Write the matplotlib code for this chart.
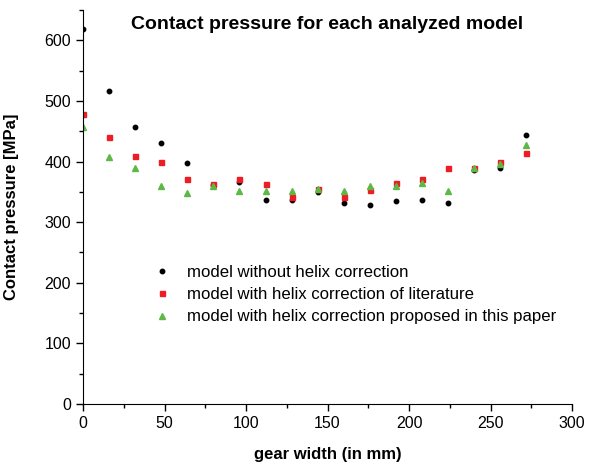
import matplotlib.pyplot as plt

plt.rcParams['font.family'] = ['Liberation Sans', 'DejaVu Sans']

# gear width positions (mm)
width_mm = [0, 16, 32, 48, 64, 80, 96, 112, 128, 144, 160, 176, 192, 208, 224, 240, 256, 272]

# contact pressure (MPa) per model
p_no_corr = [619, 517, 457, 431, 398, 362, 366, 337, 337, 349, 332, 328, 335, 337, 332, 386, 389, 443]
p_lit_corr = [478, 440, 409, 400, 372, 363, 372, 363, 342, 354, 342, 353, 364, 372, 389, 390, 400, 414]
p_new_corr = [457, 407, 390, 359, 348, 359, 351, 351, 351, 355, 351, 359, 359, 365, 351, 390, 396, 427]

labels = ["model without helix correction",
          "model with helix correction of literature",
          "model with helix correction proposed in this paper"]

fig = plt.figure(figsize=(5.9, 4.65), dpi=100)
ax = fig.add_axes([0.1407, 0.1312, 0.8288, 0.8473])

ax.plot(width_mm, p_no_corr, 'o', color='black', markersize=3.2, label=labels[0])
ax.plot(width_mm, p_lit_corr, 's', color='#ee1c25', markersize=3.6, label=labels[1])
ax.plot(width_mm, p_new_corr, '^', color='#5cb946', markersize=4.2, label=labels[2])

ax.set_xlim(0, 300)
ax.set_ylim(0, 650)
ax.set_xticks(range(0, 301, 50))
ax.set_xticks(range(25, 300, 50), minor=True)
ax.set_yticks(range(0, 601, 100))
ax.set_yticks(range(50, 651, 100), minor=True)
ax.spines['top'].set_visible(False)
ax.spines['right'].set_visible(False)
ax.tick_params(axis='both', which='major', direction='out', length=5, width=1, labelsize=11.5)
ax.tick_params(axis='both', which='minor', direction='out', length=3, width=1)

ax.set_xlabel('gear width (in mm)', fontsize=12, fontweight='bold', labelpad=12)
ax.set_ylabel('Contact pressure [MPa]', fontsize=12, fontweight='bold', labelpad=18)
ax.text(0.5, 0.985, 'Contact pressure for each analyzed model', transform=ax.transAxes,
        ha='center', va='top', fontsize=14, fontweight='bold')

ax.legend(loc='center left', bbox_to_anchor=(0.13, 0.277), frameon=False, fontsize=12.1,
          handlelength=1.0, handletextpad=1.0, labelspacing=0.42, borderaxespad=0)

plt.savefig('out.png', dpi=100)
